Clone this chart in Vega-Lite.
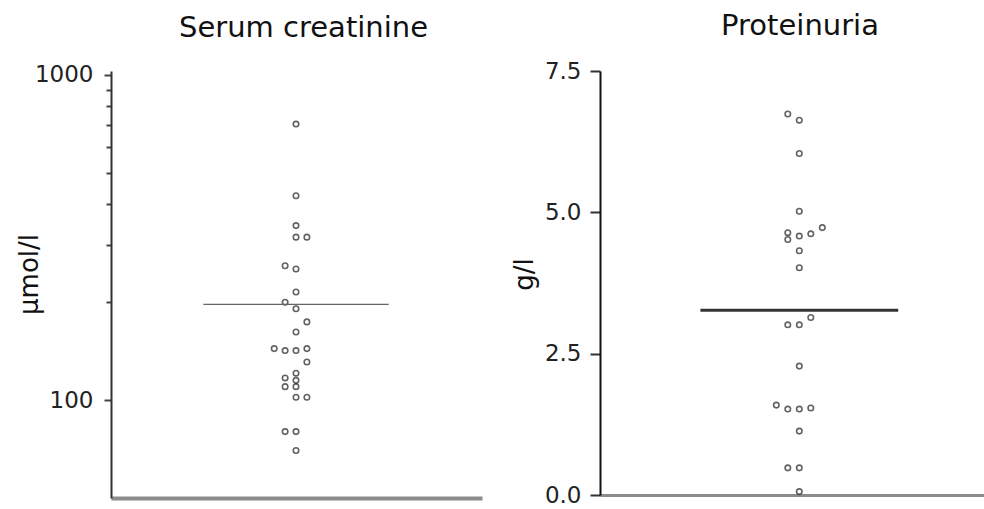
{
  "$schema": "https://vega.github.io/schema/vega-lite/v6.json",
  "background": "white",
  "padding": {"left": 16, "top": 12, "right": 0, "bottom": 0},
  "bounds": "flush",
  "spacing": 118,
  "config": {"view": {"stroke": null}, "font": "DejaVu Sans"},
  "datasets": {
    "creat": [
      {"slot": 0, "value": 706}, {"slot": 0, "value": 425}, {"slot": 0, "value": 344},
      {"slot": 0, "value": 317}, {"slot": 1, "value": 317}, {"slot": -1, "value": 259},
      {"slot": 0, "value": 253}, {"slot": 0, "value": 215}, {"slot": -1, "value": 200},
      {"slot": 0, "value": 191}, {"slot": 1, "value": 174}, {"slot": 0, "value": 162},
      {"slot": -2, "value": 144}, {"slot": -1, "value": 142}, {"slot": 0, "value": 142},
      {"slot": 1, "value": 144}, {"slot": 1, "value": 131}, {"slot": 0, "value": 121},
      {"slot": -1, "value": 117}, {"slot": -1, "value": 110}, {"slot": 0, "value": 115},
      {"slot": 0, "value": 110}, {"slot": 0, "value": 102}, {"slot": 1, "value": 102},
      {"slot": -1, "value": 80}, {"slot": 0, "value": 80}, {"slot": 0, "value": 70}
    ],
    "creatMed": [{"lo": -8.5, "hi": 8.5, "median": 197}],
    "prot": [
      {"slot": -1, "value": 6.74}, {"slot": 0, "value": 6.63}, {"slot": 0, "value": 6.04},
      {"slot": 0, "value": 5.02}, {"slot": 2, "value": 4.73}, {"slot": 1, "value": 4.62},
      {"slot": -1, "value": 4.64}, {"slot": -1, "value": 4.52}, {"slot": 0, "value": 4.58},
      {"slot": 0, "value": 4.32}, {"slot": 0, "value": 4.02}, {"slot": -1, "value": 3.01},
      {"slot": 0, "value": 3.01}, {"slot": 1, "value": 3.14}, {"slot": 0, "value": 2.28},
      {"slot": -2, "value": 1.59}, {"slot": -1, "value": 1.52}, {"slot": 0, "value": 1.52},
      {"slot": 1, "value": 1.54}, {"slot": 0, "value": 1.13}, {"slot": -1, "value": 0.48},
      {"slot": 0, "value": 0.48}, {"slot": 0, "value": 0.06}
    ],
    "protMed": [{"lo": -8.6, "hi": 8.6, "median": 3.27}]
  },
  "hconcat": [
    {
      "width": 371,
      "height": 427,
      "title": {"text": "Serum creatinine", "fontSize": 29, "font": "DejaVu Sans", "fontWeight": "normal", "color": "#111", "baseline": "alphabetic", "offset": -2, "dx": 7},
      "layer": [
        {
          "data": {"name": "creat"},
          "mark": {"type": "point", "shape": "circle", "filled": false, "size": 30, "stroke": "#222", "strokeWidth": 1.6},
          "encoding": {
            "x": {"field": "slot", "type": "quantitative", "scale": {"domain": [-16.97, 17.06], "nice": false, "zero": false},
              "axis": {"title": null, "labels": false, "ticks": false, "grid": false, "domainColor": "#8c8c8c", "domainWidth": 4}},
            "y": {"field": "value", "type": "quantitative", "scale": {"type": "log", "domain": [50, 1028], "nice": false},
              "axis": {"title": "µmol/l", "values": [100, 200, 300, 400, 500, 600, 700, 800, 900, 1000], "format": "d",
                "labelExpr": "datum.value == 100 || datum.value == 1000 ? datum.label : ''",
                "grid": false,
                "tickSize": {"condition": {"test": "datum.value == 100 || datum.value == 1000", "value": 7}, "value": 5},
                "tickColor": "#444", "tickWidth": 2, "domainColor": "#333", "domainWidth": 2,
                "labelFont": "DejaVu Sans", "labelFontSize": 23, "labelColor": "#222", "labelPadding": 11,
                "titleFont": "DejaVu Sans", "titleFontSize": 26, "titleFontWeight": "normal", "titleColor": "#111",
                "titleX": -69, "titleY": 203}}
          }
        },
        {
          "data": {"name": "creatMed"},
          "mark": {"type": "rule", "color": "#666", "strokeWidth": 1.2},
          "encoding": {
            "x": {"field": "lo", "type": "quantitative"},
            "x2": {"field": "hi"},
            "y": {"field": "median", "type": "quantitative"}
          }
        }
      ]
    },
    {
      "width": 384,
      "height": 424,
      "title": {"text": "Proteinuria", "fontSize": 29, "font": "DejaVu Sans", "fontWeight": "normal", "color": "#111", "baseline": "alphabetic", "offset": -4, "dx": 8},
      "layer": [
        {
          "data": {"name": "prot"},
          "mark": {"type": "point", "shape": "circle", "filled": false, "size": 30, "stroke": "#222", "strokeWidth": 1.6},
          "encoding": {
            "x": {"field": "slot", "type": "quantitative", "scale": {"domain": [-17.33, 16.06], "nice": false, "zero": false},
              "axis": {"title": null, "labels": false, "ticks": false, "grid": false, "domainColor": "#8c8c8c", "domainWidth": 3}},
            "y": {"field": "value", "type": "quantitative", "scale": {"domain": [0, 7.5], "nice": false},
              "axis": {"title": "g/l", "values": [0, 2.5, 5, 7.5], "format": ".1f", "grid": false,
                "tickSize": 10, "tickColor": "#333", "tickWidth": 2, "domainColor": "#111", "domainWidth": 2,
                "labelFont": "DejaVu Sans", "labelFontSize": 23, "labelColor": "#222", "labelPadding": 9,
                "titleFont": "DejaVu Sans", "titleFontSize": 26, "titleFontWeight": "normal", "titleColor": "#111",
                "titleX": -63, "titleY": 203}}
          }
        },
        {
          "data": {"name": "protMed"},
          "mark": {"type": "rule", "color": "#333", "strokeWidth": 3},
          "encoding": {
            "x": {"field": "lo", "type": "quantitative"},
            "x2": {"field": "hi"},
            "y": {"field": "median", "type": "quantitative"}
          }
        }
      ]
    }
  ]
}
